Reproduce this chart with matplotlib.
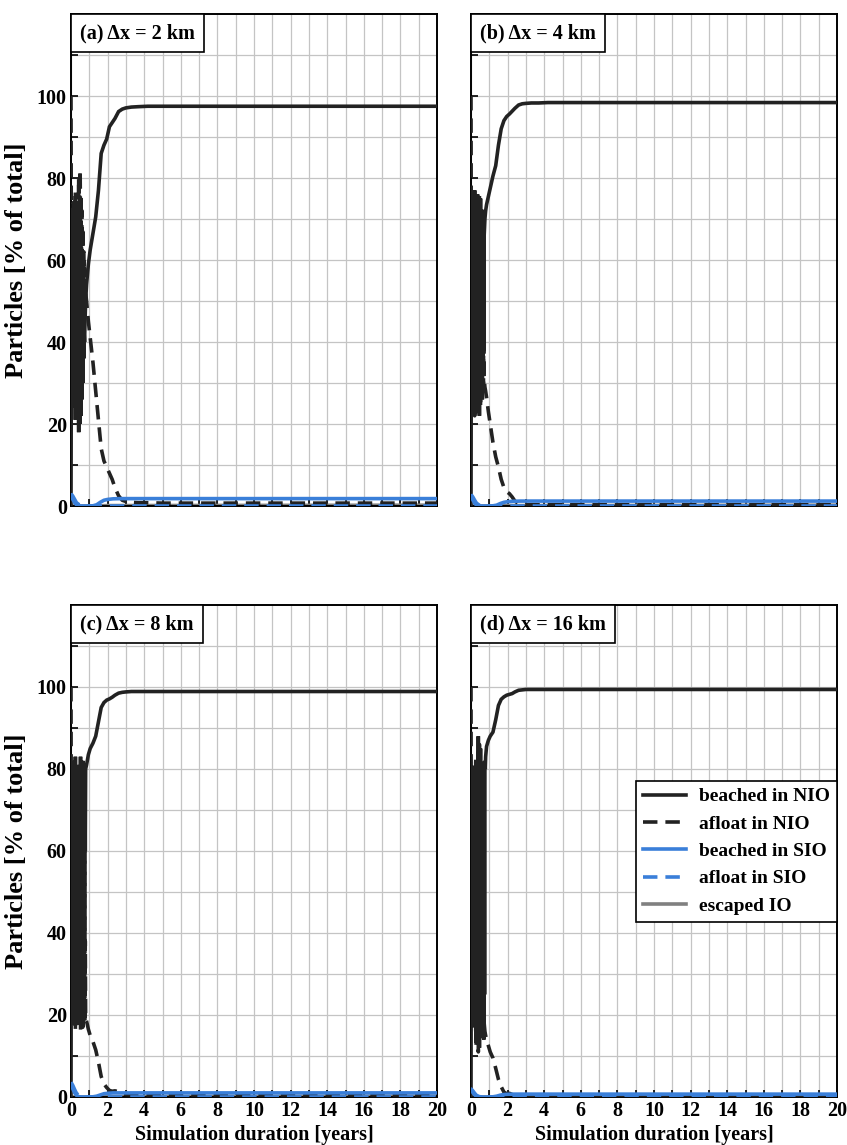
import matplotlib
matplotlib.use("Agg")
import matplotlib.pyplot as plt
from matplotlib.ticker import MultipleLocator
from matplotlib.offsetbox import AnchoredText

plt.rcParams['font.family'] = ['Liberation Serif', 'DejaVu Serif']
plt.rcParams['font.weight'] = 'bold'
plt.rcParams['axes.labelweight'] = 'bold'

# ---------------- data ----------------
panel_titles = ["(a) \u0394x = 2 km", "(b) \u0394x = 4 km", "(c) \u0394x = 8 km", "(d) \u0394x = 16 km"]
series_labels = ["beached in NIO", "afloat in NIO", "beached in SIO", "afloat in SIO", "escaped IO"]

# early (oscillating) phase sample times [years]
t_osc = [0.00, 0.02, 0.04, 0.06, 0.08, 0.10, 0.12, 0.14, 0.16, 0.18, 0.20,
         0.22, 0.24, 0.26, 0.28, 0.30, 0.32, 0.34, 0.36, 0.38, 0.40,
         0.42, 0.44, 0.46, 0.48, 0.50, 0.52, 0.54, 0.56, 0.58, 0.60,
         0.62, 0.64, 0.66, 0.68, 0.70, 0.72, 0.74, 0.76, 0.78, 0.80]
# later phase sample times [years]
t_late = [0.85, 0.95, 1.05, 1.2, 1.35, 1.5, 1.65, 1.8, 1.95, 2.1, 2.25, 2.4,
          2.6, 2.8, 3.0, 3.3, 3.7, 4.2, 5.0, 6.0, 8.0, 11.0, 15.0, 20.0]
# SIO / escaped sample times
t_sio = [0.0, 0.1, 0.2, 0.3, 0.45, 0.6, 0.9, 1.2, 1.4, 1.6, 1.8, 2.0, 2.3, 2.7, 3.5, 20.0]
t_esc = [0.0, 1.0, 2.0, 20.0]

# ---- panel (a) dx = 2 km ----
beached_nio_osc_a = [0, 38, 64, 30, 70, 44, 24, 67, 36, 72, 29, 60, 21, 69, 41, 26, 65, 33, 71, 24, 56,
                     18, 63, 38, 20, 66, 30, 22, 60, 35, 26, 55, 30, 38, 50, 36, 42, 40, 44, 47, 50]
afloat_nio_osc_a = [100, 60, 34, 68, 28, 54, 74, 31, 62, 26, 69, 38, 77, 29, 57, 72, 33, 65, 27, 74, 42,
                    80, 35, 60, 78, 82, 68, 76, 40, 63, 72, 44, 68, 60, 48, 62, 56, 58, 54, 55, 52]
beached_nio_late_a = [54, 59, 62.5, 66.5, 70.5, 77, 86, 88, 89.5, 92.5, 93.5, 94.5,
                      96.2, 96.8, 97.1, 97.3, 97.4, 97.5, 97.5, 97.5, 97.5, 97.5, 97.5, 97.5]
afloat_nio_late_a = [50, 45, 41, 35, 28, 21, 14, 11, 9.5, 8, 6.5, 4.5,
                     2.5, 1.4, 1.1, 0.9, 0.8, 0.8, 0.7, 0.7, 0.7, 0.7, 0.7, 0.7]
beached_sio_a = [2.6, 1.6, 0.8, 0.3, 0.05, 0, 0, 0.05, 0.3, 0.9, 1.4, 1.6, 1.75, 1.8, 1.8, 1.8]
afloat_sio_a = [3.0, 2.4, 1.6, 0.8, 0.3, 0.1, 0, 0, 0, 0, 0, 0, 0, 0, 0, 0]
escaped_a = [0, 0, 0.1, 0.2]

# ---- panel (b) dx = 4 km ----
beached_nio_osc_b = [0, 45, 72, 28, 66, 35, 75, 24, 60, 40, 77, 26, 68, 32, 73, 23, 58, 38, 76, 27, 65,
                     30, 74, 22, 62, 36, 75, 28, 67, 33, 72, 26, 64, 35, 70, 40, 66, 68, 70, 71, 72]
afloat_nio_osc_b = [100, 52, 26, 70, 32, 63, 24, 74, 38, 58, 22, 72, 30, 66, 25, 75, 40, 60, 23, 71, 33,
                    68, 25, 76, 36, 62, 24, 70, 31, 65, 26, 72, 34, 62, 29, 56, 31, 30, 29, 28.5, 28]
beached_nio_late_b = [73.5, 75.5, 77.5, 80.5, 83, 88, 92, 94, 95, 95.6, 96.3, 97,
                      97.8, 98.1, 98.2, 98.3, 98.3, 98.4, 98.4, 98.4, 98.4, 98.4, 98.4, 98.4]
afloat_nio_late_b = [26.5, 23, 20, 15.5, 12, 9.5, 6.5, 4.5, 3.5, 3, 2.2, 1.2,
                     0.6, 0.4, 0.3, 0.3, 0.3, 0.3, 0.3, 0.3, 0.3, 0.3, 0.3, 0.3]
beached_sio_b = [2.4, 1.5, 0.7, 0.2, 0.05, 0, 0, 0.05, 0.2, 0.6, 0.9, 1.05, 1.15, 1.2, 1.2, 1.2]
afloat_sio_b = [2.8, 2.2, 1.4, 0.7, 0.2, 0.05, 0, 0, 0, 0, 0, 0, 0, 0, 0, 0]
escaped_b = [0, 0, 0.1, 0.2]

# ---- panel (c) dx = 8 km ----
beached_nio_osc_c = [0, 50, 78, 22, 70, 34, 82, 25, 64, 19, 75, 40, 83, 28, 68, 20, 79, 36, 72, 24, 81,
                     30, 66, 18, 77, 42, 83, 26, 70, 21, 78, 34, 82, 24, 73, 30, 80, 38, 81, 60, 80]
afloat_nio_osc_c = [100, 48, 20, 76, 28, 64, 17, 73, 34, 79, 23, 58, 16, 70, 30, 78, 19, 62, 26, 74, 18,
                    67, 32, 80, 21, 56, 16, 72, 28, 77, 20, 64, 17, 74, 25, 68, 19, 60, 18, 38, 19]
beached_nio_late_c = [81, 83.5, 85, 86.3, 88, 91.5, 95, 96.2, 96.8, 97.1, 97.5, 98,
                      98.5, 98.7, 98.8, 98.9, 98.9, 98.9, 98.9, 98.9, 98.9, 98.9, 98.9, 98.9]
afloat_nio_late_c = [18.5, 16.5, 15, 13.5, 11.5, 8.5, 5, 3.2, 2.3, 1.6, 1.4, 1.5,
                     1.3, 0.8, 0.6, 0.5, 0.5, 0.5, 0.5, 0.5, 0.5, 0.5, 0.5, 0.5]
beached_sio_c = [3.0, 2.0, 1.0, 0.4, 0.05, 0, 0, 0.05, 0.2, 0.5, 0.8, 0.9, 1.0, 1.0, 1.0, 1.0]
afloat_sio_c = [3.6, 2.8, 1.8, 0.9, 0.3, 0.1, 0, 0, 0, 0, 0, 0, 0, 0, 0, 0]
escaped_c = [0, 0, 0.1, 0.2]

# ---- panel (d) dx = 16 km ----
beached_nio_osc_d = [0, 55, 80, 18, 76, 22, 79, 17, 74, 20, 80, 19, 78, 16, 80, 18, 79, 21, 77, 15, 88,
                     18, 76, 12, 79, 20, 85, 17, 78, 22, 80, 16, 77, 19, 81, 14, 79, 25, 82, 80, 83]
afloat_nio_osc_d = [100, 42, 18, 80, 22, 76, 19, 81, 24, 78, 18, 80, 20, 83, 12, 79, 19, 77, 22, 84, 11,
                    80, 23, 86, 19, 78, 14, 81, 20, 76, 18, 82, 21, 79, 17, 80, 18, 17, 16, 15.5, 15]
beached_nio_late_d = [85.5, 87, 88, 89, 92, 95.5, 97, 97.6, 98, 98.2, 98.4, 98.8,
                      99.2, 99.3, 99.4, 99.4, 99.4, 99.4, 99.4, 99.4, 99.4, 99.4, 99.4, 99.4]
afloat_nio_late_d = [14, 12.5, 11, 9.5, 7, 4.3, 2.5, 1.2, 0.8, 0.9, 0.6, 0.4,
                     0.3, 0.3, 0.3, 0.3, 0.3, 0.3, 0.3, 0.3, 0.3, 0.3, 0.3, 0.3]
beached_sio_d = [1.8, 1.1, 0.5, 0.15, 0, 0, 0, 0.05, 0.2, 0.45, 0.6, 0.65, 0.7, 0.7, 0.7, 0.7]
afloat_sio_d = [2.0, 1.5, 0.9, 0.4, 0.1, 0, 0, 0, 0, 0, 0, 0, 0, 0, 0, 0]
escaped_d = [0, 0, 0.1, 0.2]

panels = [
    (beached_nio_osc_a, beached_nio_late_a, afloat_nio_osc_a, afloat_nio_late_a, beached_sio_a, afloat_sio_a, escaped_a),
    (beached_nio_osc_b, beached_nio_late_b, afloat_nio_osc_b, afloat_nio_late_b, beached_sio_b, afloat_sio_b, escaped_b),
    (beached_nio_osc_c, beached_nio_late_c, afloat_nio_osc_c, afloat_nio_late_c, beached_sio_c, afloat_sio_c, escaped_c),
    (beached_nio_osc_d, beached_nio_late_d, afloat_nio_osc_d, afloat_nio_late_d, beached_sio_d, afloat_sio_d, escaped_d),
]

# ---------------- style ----------------
C_BLACK = "#222222"
C_BLUE = "#3a7fd9"
C_GRAY = "#808080"
LW = 2.6
DASH = (0, (4, 2.2))

W, H = 847, 1145
fig = plt.figure(figsize=(W / 100, H / 100), dpi=100)

ax_px = [(71, 14), (471, 14), (71, 605), (471, 605)]
aw, ah = 366, 492

axes = []
for i, (x0, y0) in enumerate(ax_px):
    ax = fig.add_axes([x0 / W, 1 - (y0 + ah) / H, aw / W, ah / H])
    axes.append(ax)

t_nio = t_osc + t_late
for i, ax in enumerate(axes):
    bno, bnl, ano, anl, bs, as_, esc = panels[i]
    l1, = ax.plot(t_nio, bno + bnl, color=C_BLACK, lw=LW, solid_joinstyle='miter', zorder=3)
    l2, = ax.plot(t_nio, ano + anl, color=C_BLACK, lw=LW, ls=DASH, zorder=3)
    l3, = ax.plot(t_sio, bs, color=C_BLUE, lw=LW, zorder=4)
    l4, = ax.plot(t_sio, as_, color=C_BLUE, lw=LW, ls=DASH, zorder=4)
    l5, = ax.plot(t_esc, esc, color=C_GRAY, lw=LW, zorder=2)

    ax.set_xlim(0, 20)
    ax.set_ylim(0, 120)
    ax.xaxis.set_major_locator(MultipleLocator(2))
    ax.xaxis.set_minor_locator(MultipleLocator(1))
    ax.set_yticks([0, 20, 40, 60, 80, 100])
    ax.set_yticks([10, 30, 50, 70, 90, 110], minor=True)
    ax.grid(True, which='both', color='#c4c4c4', lw=0.9, zorder=0)
    ax.set_axisbelow(True)
    ax.tick_params(which='both', direction='in', length=5, width=1.2, top=False, right=False,
                   labelsize=14.5, pad=3, colors='black')
    for sp in ax.spines.values():
        sp.set_linewidth(1.4)
        sp.set_color('black')

    if i in (1, 3):
        ax.tick_params(labelleft=False)
    else:
        ax.set_ylabel("Particles [% of total]", fontsize=19, fontweight='bold', labelpad=6)
    if i in (0, 1):
        ax.tick_params(labelbottom=False)
    else:
        ax.set_xlabel("Simulation duration [years]", fontsize=14.5, fontweight='bold', labelpad=3)

    at = AnchoredText(panel_titles[i], loc='upper left', pad=0.45, borderpad=0, frameon=True,
                      prop=dict(size=14.5, weight='bold'))
    at.patch.set_boxstyle("square,pad=0")
    at.patch.set_linewidth(1.2)
    at.patch.set_edgecolor('black')
    at.zorder = 10
    ax.add_artist(at)

    if i == 3:
        leg = ax.legend([l1, l2, l3, l4, l5], series_labels, loc='upper right',
                        bbox_to_anchor=(1.0, (1096 - 780) / ah), borderaxespad=0,
                        fancybox=False, framealpha=1, edgecolor='black',
                        prop=dict(size=14, weight='bold'), handlelength=2.2,
                        handletextpad=0.7, labelspacing=0.5, borderpad=0.35)
        leg.get_frame().set_linewidth(1.2)
        leg.set_zorder(10)

fig.savefig("out.png", dpi=100)
